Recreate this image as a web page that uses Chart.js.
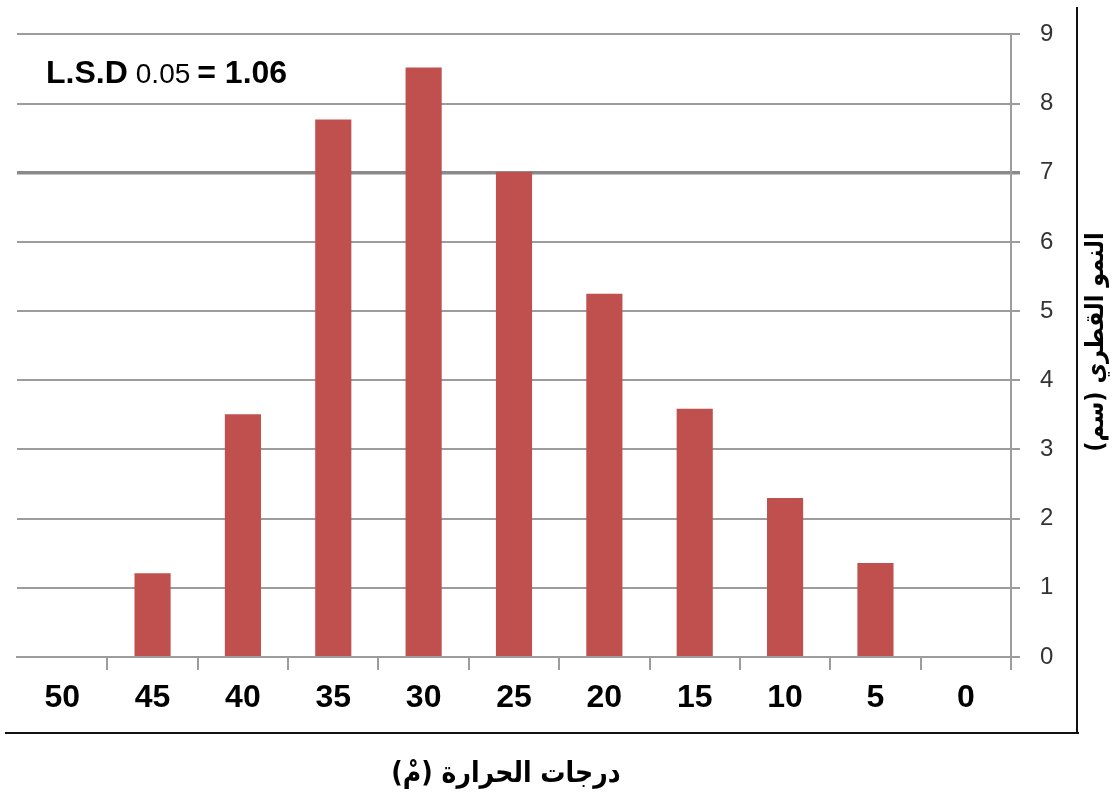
<!DOCTYPE html>
<html lang="ar">
<head>
<meta charset="utf-8">
<title>النمو القطري حسب درجات الحرارة</title>
<script src="https://cdn.jsdelivr.net/npm/chart.js@4.4.1/dist/chart.umd.min.js"></script>
<style>
  html, body { margin: 0; padding: 0; background: #ffffff; }
  #wrap { width: 1119px; height: 793px; position: relative; }
  canvas { display: block; }
</style>
</head>
<body>
<div id="wrap"><canvas id="chart" width="1119" height="793"></canvas></div>
<script>
// Temperature categories (°C), drawn left to right as listed
const temperatures = ['50', '45', '40', '35', '30', '25', '20', '15', '10', '5', '0'];
// Diameter growth (cm) for each temperature
const diameterGrowth = [0, 1.21, 3.51, 7.77, 8.52, 7.01, 5.25, 3.59, 2.30, 1.36, 0];
// Value axis range and step
const yMin = 0;
const yMax = 9;
const yStep = 1;
// Highlighted gridline value
const emphasisLine = 7;

const xTitle = 'درجات الحرارة (مْ)';
const yTitle = 'النمو القطري (سم)';
const lsdLabel = ['L.S.D', '0.05', '= 1.06'];

const GRID = '#9c9c9c';

const textLayer = {
  id: 'textLayer',
  afterDraw(chart) {
    const ctx = chart.ctx;
    ctx.save();

    // outer frame (right and bottom)
    ctx.strokeStyle = '#111';
    ctx.lineWidth = 2;
    ctx.beginPath();
    ctx.moveTo(1077, 7);
    ctx.lineTo(1077, 734);
    ctx.moveTo(5, 733);
    ctx.lineTo(1079, 733);
    ctx.stroke();

    // LSD annotation
    ctx.fillStyle = '#000';
    ctx.textBaseline = 'alphabetic';
    ctx.textAlign = 'left';
    let x = 46;
    const base = 83;
    ctx.font = 'bold 32px "Liberation Sans", Arial, sans-serif';
    ctx.fillText(lsdLabel[0], x, base);
    x += ctx.measureText(lsdLabel[0]).width + 8;
    ctx.font = '28px "Liberation Sans", Arial, sans-serif';
    ctx.fillText(lsdLabel[1], x, base);
    x += ctx.measureText(lsdLabel[1]).width + 7;
    ctx.font = 'bold 32px "Liberation Sans", Arial, sans-serif';
    ctx.fillText(lsdLabel[2], x, base);

    // axis titles (Arabic)
    const fitFont = (text, target) => {
      ctx.font = 'bold 24px "DejaVu Sans", sans-serif';
      const w = ctx.measureText(text).width;
      const size = 24 * target / w;
      return 'bold ' + size.toFixed(1) + 'px "DejaVu Sans", sans-serif';
    };
    ctx.textAlign = 'center';
    ctx.textBaseline = 'middle';
    ctx.direction = 'rtl';

    ctx.save();
    ctx.font = fitFont(xTitle, 229);
    ctx.translate(506, 774);
    ctx.scale(1, 1.15);
    ctx.fillText(xTitle, 0, 0);
    ctx.restore();

    ctx.font = fitFont(yTitle, 219);
    ctx.translate(1097, 342);
    ctx.rotate(-Math.PI / 2);
    ctx.scale(1, 1.1);
    ctx.fillText(yTitle, 0, 0);

    ctx.restore();
  }
};

new Chart(document.getElementById('chart'), {
  type: 'bar',
  data: {
    labels: temperatures,
    datasets: [{
      data: diameterGrowth,
      backgroundColor: '#C0504D',
      borderWidth: 0,
      categoryPercentage: 1,
      barPercentage: 0.4
    }]
  },
  options: {
    responsive: false,
    animation: false,
    devicePixelRatio: 1,
    layout: { padding: { top: 34, left: 17, right: 0, bottom: 0 } },
    plugins: {
      legend: { display: false },
      tooltip: { enabled: false }
    },
    scales: {
      x: {
        position: 'bottom',
        offset: true,
        afterFit(scale) { scale.height = 136; },
        grid: {
          offset: true,
          drawOnChartArea: false,
          drawTicks: true,
          tickLength: 13,
          lineWidth: 2,
          color: (c) => (c.index === 0 ? 'rgba(0,0,0,0)' : GRID)
        },
        border: { display: true, color: GRID, width: 2 },
        ticks: {
          color: '#000',
          padding: 9,
          maxRotation: 0,
          font: { family: '"Liberation Sans", Arial, sans-serif', size: 32, weight: 'bold' }
        }
      },
      y: {
        position: 'right',
        min: yMin,
        max: yMax,
        afterFit(scale) { scale.width = 108; },
        grid: {
          drawTicks: true,
          tickLength: 9,
          color: (c) => (c.tick && c.tick.value === emphasisLine ? '#8a8a8a' : GRID),
          lineWidth: (c) => (c.tick && c.tick.value === emphasisLine ? 3.5 : 2)
        },
        border: { display: true, color: GRID, width: 2 },
        ticks: {
          stepSize: yStep,
          padding: 20,
          color: '#333',
          font: { family: '"Liberation Sans", Arial, sans-serif', size: 24 }
        }
      }
    }
  },
  plugins: [textLayer]
});
</script>
</body>
</html>
